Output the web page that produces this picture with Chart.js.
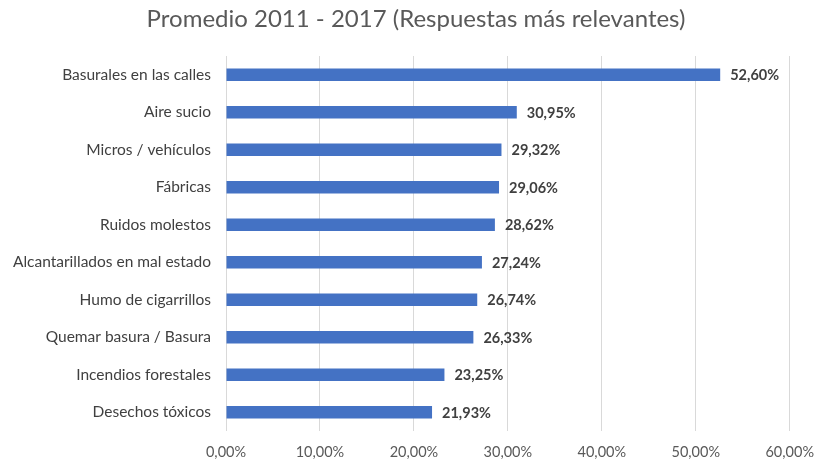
<!DOCTYPE html>
<html>
<head>
<meta charset="utf-8">
<script src="https://cdn.jsdelivr.net/npm/chart.js@4"></script>
<style>
html,body{margin:0;padding:0;background:#fff;}
#wrap{width:827px;height:462px;position:relative;}
</style>
</head>
<body>
<div id="wrap"><canvas id="c" width="827" height="462"></canvas></div>
<script>
const titleText = 'Promedio 2011 - 2017 (Respuestas más relevantes)';
const categories = [
  'Basurales en las calles',
  'Aire sucio',
  'Micros / vehículos',
  'Fábricas',
  'Ruidos molestos',
  'Alcantarillados en mal estado',
  'Humo de cigarrillos',
  'Quemar basura / Basura',
  'Incendios forestales',
  'Desechos tóxicos'
];
const values = [52.60, 30.95, 29.32, 29.06, 28.62, 27.24, 26.74, 26.33, 23.25, 21.93];
const axisTicks = [0, 10, 20, 30, 40, 50, 60];

const fmt = v => v.toFixed(2).replace('.', ',') + '%';
const FONT = 'Lato, "Open Sans", sans-serif';

const valueLabels = {
  id: 'valueLabels',
  afterDatasetsDraw(chart) {
    const ctx = chart.ctx;
    const meta = chart.getDatasetMeta(0);
    ctx.save();
    ctx.font = 'bold 14.5px ' + FONT;
    ctx.fillStyle = '#404040';
    ctx.textAlign = 'left';
    ctx.textBaseline = 'middle';
    meta.data.forEach((bar, i) => {
      ctx.fillText(fmt(values[i]), bar.x + 10, bar.y + 1);
    });
    ctx.restore();
  }
};

const customTitle = {
  id: 'customTitle',
  afterDraw(chart) {
    const ctx = chart.ctx;
    ctx.save();
    ctx.font = '24px ' + FONT;
    ctx.fillStyle = '#595959';
    ctx.textAlign = 'center';
    ctx.textBaseline = 'alphabetic';
    ctx.fillText(titleText, 416, 27);
    ctx.restore();
  }
};

new Chart(document.getElementById('c'), {
  type: 'bar',
  data: {
    labels: categories,
    datasets: [{
      data: values,
      backgroundColor: '#4472C4',
      borderWidth: 0,
      barPercentage: 0.33,
      categoryPercentage: 1
    }]
  },
  options: {
    indexAxis: 'y',
    responsive: false,
    animation: false,
    layout: { padding: { left: 0, right: 36, top: 56, bottom: 0 } },
    plugins: {
      legend: { display: false },
      tooltip: { enabled: false },
      title: { display: false }
    },
    scales: {
      x: {
        min: 0, max: 60,
        afterBuildTicks: s => { s.ticks = axisTicks.map(v => ({ value: v })); },
        afterFit: s => { s.height = 31; },
        grid: { color: '#d9d9d9', drawTicks: false },
        border: { display: false },
        ticks: {
          padding: 13,
          color: '#595959',
          font: { family: FONT, size: 14.5 },
          callback: v => fmt(v)
        }
      },
      y: {
        afterFit: s => { s.width = 226; },
        grid: { display: false, drawTicks: false },
        border: { display: false },
        ticks: {
          padding: 15,
          color: '#404040',
          font: { family: FONT, size: 15.5 }
        }
      }
    }
  },
  plugins: [valueLabels, customTitle]
});
</script>
</body>
</html>
